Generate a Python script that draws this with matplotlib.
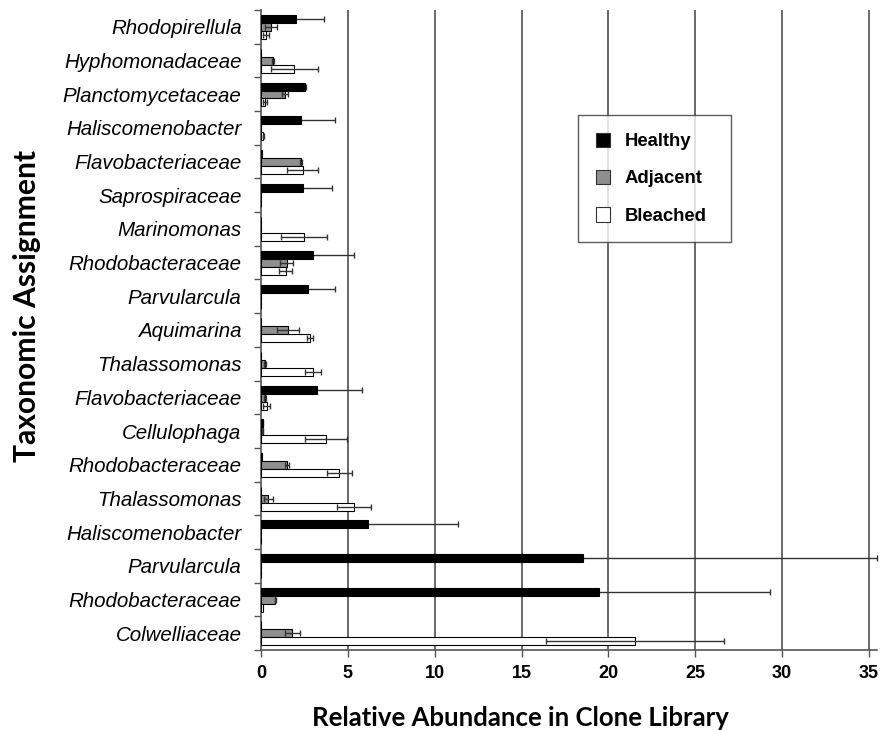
import numpy as np
import matplotlib
matplotlib.use("Agg")
import matplotlib.pyplot as plt
from matplotlib.patches import Patch

categories = ['Rhodopirellula', 'Hyphomonadaceae', 'Planctomycetaceae', 'Haliscomenobacter',
              'Flavobacteriaceae', 'Saprospiraceae', 'Marinomonas', 'Rhodobacteraceae',
              'Parvularcula', 'Aquimarina', 'Thalassomonas', 'Flavobacteriaceae',
              'Cellulophaga', 'Rhodobacteraceae', 'Thalassomonas', 'Haliscomenobacter',
              'Parvularcula', 'Rhodobacteraceae', 'Colwelliaceae']

healthy = [1.99, 0, 2.53, 2.30, 0.05, 2.43, 0, 3.01, 2.68, 0, 0, 3.20, 0.10, 0.05, 0, 6.15, 18.55, 19.47, 0]
healthy_err = [1.63, 0, 0.06, 1.95, 0, 1.67, 0, 2.36, 1.57, 0, 0, 2.64, 0.03, 0, 0, 5.20, 16.90, 9.85, 0]
adjacent = [0.56, 0.71, 1.38, 0, 2.28, 0, 0, 1.48, 0, 1.53, 0.25, 0.23, 0.10, 1.50, 0.42, 0, 0, 0.82, 1.80]
adjacent_err = [0.35, 0.05, 0.20, 0, 0.06, 0, 0, 0.38, 0, 0.63, 0.05, 0.05, 0.03, 0.12, 0.25, 0, 0, 0.03, 0.44]
bleached = [0.29, 1.92, 0.23, 0.12, 2.39, 0, 2.47, 1.42, 0, 2.82, 3.00, 0.33, 3.74, 4.50, 5.34, 0, 0, 0.10, 21.53]
bleached_err = [0.17, 1.34, 0.13, 0.03, 0.90, 0, 1.34, 0.36, 0, 0.20, 0.44, 0.20, 1.21, 0.71, 0.98, 0, 0, 0, 5.13]

series_names = ['Healthy', 'Adjacent', 'Bleached']
series_colors = ['#000000', '#8f8f8f', '#ffffff']
xticks = [0, 5, 10, 15, 20, 25, 30, 35]

fig = plt.figure(figsize=(8.8, 7.3), dpi=100)
ax = fig.add_axes([0.2966, 0.1096, 0.6998, 0.8767])

n = len(categories)
y = np.arange(n)
offsets = [-0.228, 0.008, 0.244]
bh = 0.236

data = [(healthy, healthy_err), (adjacent, adjacent_err), (bleached, bleached_err)]
for k, ((vals, errs), off, col) in enumerate(zip(data, offsets, series_colors)):
    vals = np.array(vals, dtype=float)
    errs = np.array(errs, dtype=float)
    ax.barh(y + off, vals, height=bh, color=col, edgecolor='#000000', linewidth=0.8, zorder=3)
    m = errs > 0
    ax.errorbar(vals[m], (y + off)[m], xerr=errs[m], fmt='none', ecolor='#333333',
                elinewidth=1.0, capsize=2.2, capthick=1.0,
                zorder=2.5 if k == 0 else 4, clip_on=False)

ax.set_xlim(0, 35.45)
ax.set_ylim(n - 0.5, -0.5)

ax.set_xticks(xticks)
ax.set_xticklabels([str(t) for t in xticks], fontfamily='Liberation Sans', fontweight='bold', fontsize=13)
ax.set_yticks(y)
ax.set_yticklabels(categories, fontfamily='Liberation Sans', fontstyle='italic', fontsize=14.8)
ax.set_yticks(np.arange(-0.5, n, 1.0), minor=True)
ax.tick_params(axis='y', which='major', length=0, pad=14)
ax.tick_params(axis='y', which='minor', length=5, width=1, color='#555555', direction='out')
ax.tick_params(axis='x', which='major', length=5, width=1, color='#555555', direction='out', pad=6)

for t in xticks[1:]:
    ax.axvline(t, color='#505050', linewidth=1.2, zorder=1)

for s in ['top', 'right']:
    ax.spines[s].set_visible(False)
for s in ['left', 'bottom']:
    ax.spines[s].set_color('#555555')
    ax.spines[s].set_linewidth(1.2)

ax.set_xlabel('Relative Abundance in Clone Library', fontfamily='Lato', fontweight='bold', fontsize=18.5)
ax.xaxis.set_label_coords(0.4206, -0.0875)
ax.set_ylabel('Taxonomic Assignment', fontfamily='Lato', fontweight='bold', fontsize=21.6)
ax.yaxis.set_label_coords(-0.358, 0.5375)

handles = [Patch(facecolor=c, edgecolor='#333333', linewidth=0.8) for c in series_colors]
leg = ax.legend(handles, series_names, loc='upper left', bbox_to_anchor=(0.515, 0.636, 0.248, 0.2),
                mode='expand', frameon=True, fancybox=False, borderpad=0.95, labelspacing=1.08,
                handlelength=0.8, handleheight=0.8, handletextpad=0.77, borderaxespad=0,
                prop={'family': 'Liberation Sans', 'weight': 'bold', 'size': 13.3})
leg.get_frame().set_edgecolor('#333333')
leg.get_frame().set_linewidth(1.0)
leg.set_zorder(10)

fig.savefig('out.png', dpi=100, facecolor='white')
